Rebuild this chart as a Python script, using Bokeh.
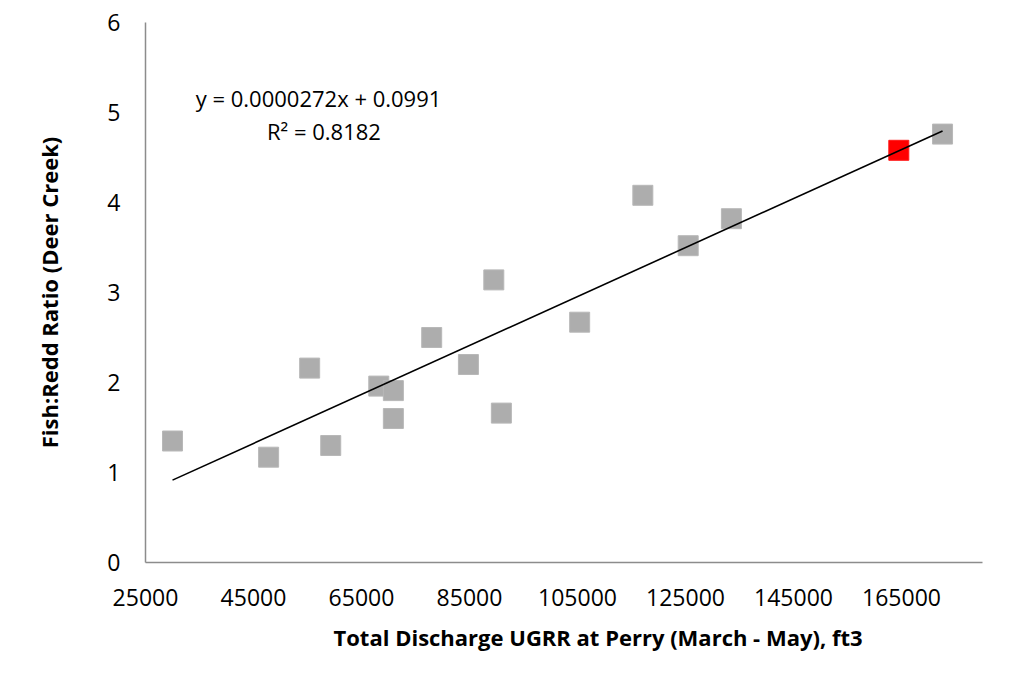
from bokeh.plotting import figure
from bokeh.models import Range1d, FixedTicker, NumeralTickFormatter, Label, Title
from bokeh.embed import file_html
from bokeh.resources import INLINE

# Data
discharge = [30000, 47800, 59300, 55400, 68200, 70900, 70900, 78000, 84800,
             89500, 90900, 105400, 117100, 125500, 133500, 172600]
ratio = [1.35, 1.17, 1.30, 2.16, 1.96, 1.91, 1.60, 2.50, 2.20,
         3.14, 1.66, 2.67, 4.08, 3.52, 3.82, 4.76]
highlight_discharge = [164500]
highlight_ratio = [4.58]

slope = 0.0000272
intercept = 0.0991
eq_text = "y = 0.0000272x + 0.0991"
r2_text = "R\u00b2 = 0.8182"

x_ticks = [25000, 45000, 65000, 85000, 105000, 125000, 145000, 165000]
y_ticks = [0, 1, 2, 3, 4, 5, 6]

x_title = "Total Discharge UGRR at Perry (March - May), ft3"
y_title = "Fish:Redd Ratio (Deer Creek)"

FONT = "Open Sans"

p = figure(width=1026, height=681, output_backend="svg", toolbar_location=None,
           x_range=Range1d(25000, 180000), y_range=Range1d(0, 6),
           min_border_left=145, min_border_right=44, min_border_top=22,
           min_border_bottom=119)
p.background_fill_color = "white"
p.border_fill_color = "white"
p.outline_line_color = None
p.grid.visible = False

for ax in (p.xaxis[0], p.yaxis[0]):
    ax.axis_line_color = "#8C8C8C"
    ax.axis_line_width = 1.5
    ax.major_tick_line_color = None
    ax.minor_tick_line_color = None
    ax.major_tick_out = 0
    ax.major_tick_in = 0
    ax.major_label_text_font = FONT
    ax.major_label_text_font_size = "23px"
    ax.major_label_text_color = "#000000"

p.xaxis.ticker = FixedTicker(ticks=x_ticks)
p.xaxis.formatter = NumeralTickFormatter(format="0")
p.xaxis.major_label_standoff = 26
p.yaxis.ticker = FixedTicker(ticks=y_ticks)
p.yaxis.major_label_standoff = 25

p.yaxis.axis_label = y_title
p.yaxis.axis_label_text_font = FONT
p.yaxis.axis_label_text_font_style = "bold"
p.yaxis.axis_label_text_font_size = "22px"
p.yaxis.axis_label_text_color = "#000000"
p.yaxis.axis_label_standoff = 40

# X axis title (placed below, shifted right like the reference)
p.add_layout(Title(text=x_title, align="left", offset=188, standoff=22,
                   text_font=FONT, text_font_size="22px",
                   text_font_style="bold", text_color="#000000"), "below")

# Points
p.scatter(discharge, ratio, marker="square", size=20,
          fill_color="#ADADAD", line_color="#B8B8B8", line_width=1)
p.scatter(highlight_discharge, highlight_ratio, marker="square", size=20,
          fill_color="#FF0000", line_color="#FF1A1A", line_width=1)

# Trendline from the fitted equation
all_x = discharge + highlight_discharge
x0, x1 = min(all_x), max(all_x)
p.line([x0, x1], [slope * x0 + intercept, slope * x1 + intercept],
       line_color="black", line_width=1.6)

# Equation labels
p.add_layout(Label(x=34300, y=5.16, text=eq_text, text_font=FONT,
                   text_font_size="22px", text_align="left",
                   text_baseline="alphabetic", text_color="#000000"))
p.add_layout(Label(x=47500, y=4.80, text=r2_text, text_font=FONT,
                   text_font_size="22px", text_align="left",
                   text_baseline="alphabetic", text_color="#000000"))

open("out.html", "w").write(file_html(p, INLINE))
